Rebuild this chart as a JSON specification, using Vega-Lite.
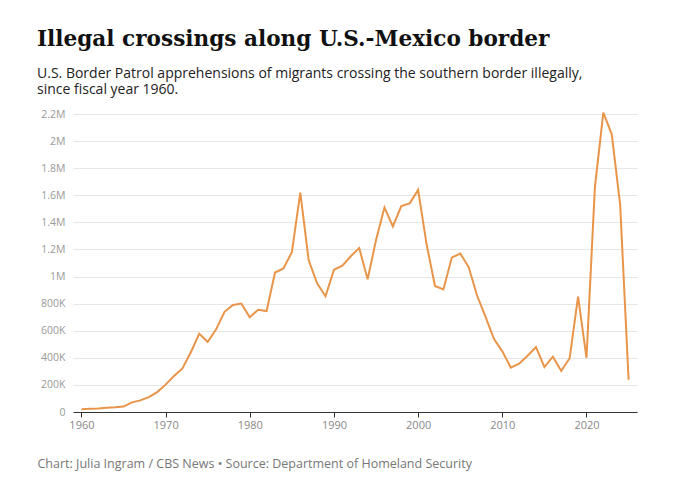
{
  "$schema": "https://vega.github.io/schema/vega-lite/v6.json",
  "width": 564,
  "height": 298,
  "padding": {"left": 37, "top": 29, "right": 30, "bottom": 10},
  "background": "white",
  "title": {
    "text": "Illegal crossings along U.S.-Mexico border",
    "subtitle": ["U.S. Border Patrol apprehensions of migrants crossing the southern border illegally,", "since fiscal year 1960."],
    "anchor": "start",
    "frame": "group",
    "offset": 12,
    "dx": -36,
    "font": "DejaVu Serif",
    "fontSize": 21.6,
    "fontWeight": "bold",
    "color": "#111",
    "subtitleFont": "Open Sans",
    "subtitleFontSize": 14,
    "subtitleLineHeight": 16,
    "subtitleColor": "#222",
    "subtitlePadding": 16
  },
  "data": {
    "values": [
      {"year": 1960, "n": 21000}, {"year": 1961, "n": 24000}, {"year": 1962, "n": 25000},
      {"year": 1963, "n": 32000}, {"year": 1964, "n": 35000}, {"year": 1965, "n": 40000},
      {"year": 1966, "n": 71000}, {"year": 1967, "n": 86000}, {"year": 1968, "n": 110000},
      {"year": 1969, "n": 147000}, {"year": 1970, "n": 202000}, {"year": 1971, "n": 266000},
      {"year": 1972, "n": 322000}, {"year": 1973, "n": 441000}, {"year": 1974, "n": 578000},
      {"year": 1975, "n": 517000}, {"year": 1976, "n": 610000}, {"year": 1977, "n": 740000},
      {"year": 1978, "n": 790000}, {"year": 1979, "n": 800000}, {"year": 1980, "n": 700000},
      {"year": 1981, "n": 755000}, {"year": 1982, "n": 745000}, {"year": 1983, "n": 1030000},
      {"year": 1984, "n": 1060000}, {"year": 1985, "n": 1180000}, {"year": 1986, "n": 1620000},
      {"year": 1987, "n": 1120000}, {"year": 1988, "n": 950000}, {"year": 1989, "n": 855000},
      {"year": 1990, "n": 1050000}, {"year": 1991, "n": 1080000}, {"year": 1992, "n": 1150000},
      {"year": 1993, "n": 1210000}, {"year": 1994, "n": 980000}, {"year": 1995, "n": 1270000},
      {"year": 1996, "n": 1510000}, {"year": 1997, "n": 1370000}, {"year": 1998, "n": 1520000},
      {"year": 1999, "n": 1540000}, {"year": 2000, "n": 1640000}, {"year": 2001, "n": 1240000},
      {"year": 2002, "n": 930000}, {"year": 2003, "n": 905000}, {"year": 2004, "n": 1140000},
      {"year": 2005, "n": 1170000}, {"year": 2006, "n": 1070000}, {"year": 2007, "n": 860000},
      {"year": 2008, "n": 705000}, {"year": 2009, "n": 540000}, {"year": 2010, "n": 448000},
      {"year": 2011, "n": 328000}, {"year": 2012, "n": 357000}, {"year": 2013, "n": 415000},
      {"year": 2014, "n": 479000}, {"year": 2015, "n": 331000}, {"year": 2016, "n": 408000},
      {"year": 2017, "n": 304000}, {"year": 2018, "n": 397000}, {"year": 2019, "n": 852000},
      {"year": 2020, "n": 400000}, {"year": 2021, "n": 1660000}, {"year": 2022, "n": 2210000},
      {"year": 2023, "n": 2050000}, {"year": 2024, "n": 1530000}, {"year": 2025, "n": 238000}
    ]
  },
  "mark": {"type": "line", "color": "#e8954a", "strokeWidth": 2},
  "encoding": {
    "x": {
      "field": "year", "type": "quantitative",
      "scale": {"domain": [1959, 2026], "nice": false},
      "axis": {
        "values": [1960, 1970, 1980, 1990, 2000, 2010, 2020],
        "format": "d", "grid": false,
        "domainColor": "#333", "tickColor": "#333", "tickSize": 5,
        "labelColor": "#888", "labelFont": "Open Sans", "labelFontSize": 11,
        "title": "Chart: Julia Ingram / CBS News • Source: Department of Homeland Security",
        "titleAnchor": "start", "titleX": -36, "titlePadding": 27,
        "titleFont": "Open Sans", "titleFontSize": 12.5, "titleFontWeight": "normal", "titleColor": "#777"
      }
    },
    "y": {
      "field": "n", "type": "quantitative",
      "scale": {"domain": [0, 2200000], "nice": false},
      "axis": {
        "values": [0, 200000, 400000, 600000, 800000, 1000000, 1200000, 1400000, 1600000, 1800000, 2000000, 2200000],
        "labelExpr": "datum.value >= 1000000 ? format(datum.value / 1000000, '.1~f') + 'M' : datum.value == 0 ? '0' : format(datum.value / 1000, 'd') + 'K'",
        "domain": false, "ticks": false, "title": null,
        "gridColor": "#e6e6e6", "labelColor": "#999", "labelFont": "Open Sans", "labelFontSize": 10.5, "labelPadding": 8
      }
    }
  },
  "config": {"view": {"stroke": null}}
}
